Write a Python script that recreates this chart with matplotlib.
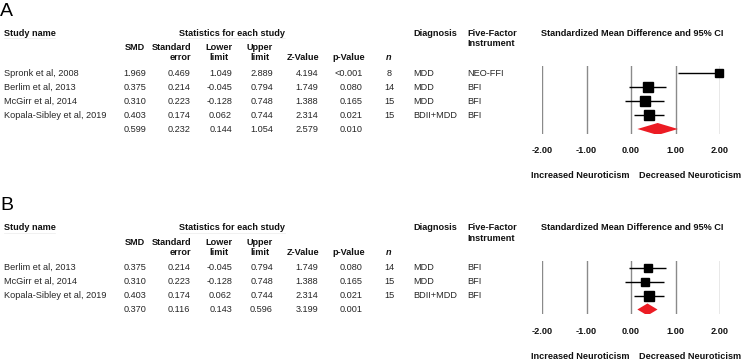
import matplotlib
matplotlib.use("Agg")
import matplotlib.pyplot as plt
import numpy as np

plt.rcParams["font.family"] = ["Liberation Sans", "DejaVu Sans"]

# panel A data
studies_a = ["Spronk et al, 2008", "Berlim et al, 2013", "McGirr et al, 2014", "Kopala-Sibley et al, 2019"]
smd_a = [1.969, 0.375, 0.310, 0.403]
se_a = [0.469, 0.214, 0.223, 0.174]
lower_a = [1.049, -0.045, -0.128, 0.062]
upper_a = [2.889, 0.794, 0.748, 0.744]
z_a = [4.194, 1.749, 1.388, 2.314]
p_a = ["<0.001", "0.080", "0.165", "0.021"]
n_a = [8, 14, 15, 15]
diag_a = ["MDD", "MDD", "MDD", "BDII+MDD"]
instr_a = ["NEO-FFI", "BFI", "BFI", "BFI"]
pooled_a = [0.599, 0.232, 0.144, 1.054, 2.579, "0.010"]

# panel B data
studies_b = ["Berlim et al, 2013", "McGirr et al, 2014", "Kopala-Sibley et al, 2019"]
smd_b = [0.375, 0.310, 0.403]
se_b = [0.214, 0.223, 0.174]
lower_b = [-0.045, -0.128, 0.062]
upper_b = [0.794, 0.748, 0.744]
z_b = [1.749, 1.388, 2.314]
p_b = ["0.080", "0.165", "0.021"]
n_b = [14, 15, 15]
diag_b = ["MDD", "MDD", "BDII+MDD"]
instr_b = ["BFI", "BFI", "BFI"]
pooled_b = [0.370, 0.116, 0.143, 0.596, 3.199, "0.001"]

x_ticks = [-2, -1, 0, 1, 2]

W, H = 741, 360
FS = 6.6
ROW = 14.0

fig = plt.figure(figsize=(W / 100, H / 100), dpi=100)
bg = fig.add_axes([0, 0, 1, 1])
bg.set_xlim(0, W)
bg.set_ylim(H, 0)
bg.axis("off")


def txt(x, y, s, ha="left", bold=False, **kw):
    bg.text(x, y, s, ha=ha, va="center", fontsize=kw.pop("fontsize", FS),
            fontweight="bold" if bold else "normal",
            color=kw.pop("color", "#111111" if bold else "#262626"), **kw)


def re_weights(y, se):
    # DerSimonian-Laird random effects weights
    y = np.asarray(y)
    v = np.asarray(se) ** 2
    w = 1 / v
    m = np.sum(w * y) / np.sum(w)
    q = np.sum(w * (y - m) ** 2)
    c = np.sum(w) - np.sum(w ** 2) / np.sum(w)
    tau2 = max(0.0, (q - (len(y) - 1)) / c)
    return 1 / (v + tau2)


def panel(letter, y0, studies, smd, se, lower, upper, z, p, n, diag, instr, pooled):
    txt(0, 11 + y0, letter, fontsize=14, color="black")
    txt(4, 33 + y0, "Study name", bold=True)
    txt(232, 33 + y0, "Statistics for each study", ha="center", bold=True)
    # faint header underlines
    bg.plot([4, 55], [38 + y0, 38 + y0], color="#ebebeb", lw=0.5)
    bg.plot([180, 285], [38 + y0, 38 + y0], color="#ebebeb", lw=0.5)
    txt(413, 33 + y0, "Diagnosis", bold=True)
    txt(467, 33 + y0, "Five-Factor", bold=True)
    txt(467, 44 + y0, "Instrument", bold=True)
    txt(632, 33 + y0, "Standardized Mean Difference and 95% CI", ha="center", bold=True)

    txt(135, 48 + y0, "SMD", ha="center", bold=True)
    txt(191, 48 + y0, "Standard", ha="right", bold=True)
    txt(191, 58 + y0, "error", ha="right", bold=True)
    txt(219, 48 + y0, "Lower", ha="center", bold=True)
    txt(219, 58 + y0, "limit", ha="center", bold=True)
    txt(260, 48 + y0, "Upper", ha="center", bold=True)
    txt(260, 58 + y0, "limit", ha="center", bold=True)
    txt(319, 58 + y0, "Z-Value", ha="right", bold=True)
    txt(365, 58 + y0, "p-Value", ha="right", bold=True)
    txt(389, 58 + y0, "n", ha="center", bold=True, style="italic")

    rows = len(studies)
    for i in range(rows + 1):
        yy = 73 + y0 + i * ROW
        if i < rows:
            txt(4, yy, studies[i])
            vals = [smd[i], se[i], lower[i], upper[i], z[i]]
            txt(389, yy, str(n[i]), ha="center")
            txt(413, yy, diag[i])
            txt(467, yy, instr[i])
            pv = p[i]
        else:
            vals = pooled[:5]
            pv = pooled[5]
        for xr, v in zip([146, 190, 232, 273, 318], vals):
            txt(xr, yy, f"{v:.3f}", ha="right")
        txt(363, yy, pv, ha="right")

    # forest plot axes
    top_px = 73 + y0 - 0.5 * ROW
    bot_px = 73 + y0 + (rows + 0.35) * ROW
    ax = fig.add_axes([542 / W, 1 - bot_px / H, (720 - 542) / W, (bot_px - top_px) / H])
    ax.set_xlim(-2, 2)
    ax.set_ylim(rows + 0.35, -0.5)
    for s in ax.spines.values():
        s.set_visible(False)
    ax.patch.set_visible(False)
    ax.set_yticks([])
    ax.set_xticks(x_ticks)
    ax.set_xticklabels([f"{t:.2f}" for t in x_ticks], fontsize=FS, fontweight="bold", color="#111111")
    ax.tick_params(axis="x", length=0, pad=9)
    for t in x_ticks:
        ax.axvline(t, color="#8a8a8a", lw=1, zorder=1)

    w = re_weights(smd, se)
    sizes = 7.9 * np.sqrt(w / w.max())
    ys = np.arange(rows)
    ax.hlines(ys, lower, upper, color="black", lw=1, zorder=2)
    for yi, xi, ms in zip(ys, smd, sizes):
        ax.plot(xi, yi, marker="s", ms=ms, color="black", zorder=3, clip_on=False)

    m, lo, hi = pooled[0], pooled[2], pooled[3]
    yd = rows
    ax.fill([lo, m, hi, m], [yd, yd - 0.43, yd, yd + 0.43], color="#ec1c24", lw=0, zorder=3)

    txt(580, bot_px + 42, "Increased Neuroticism", ha="center", bold=True)
    txt(690, bot_px + 42, "Decreased Neuroticism", ha="center", bold=True)


panel("A", 0, studies_a, smd_a, se_a, lower_a, upper_a, z_a, p_a, n_a, diag_a, instr_a, pooled_a)
panel("B", 194.5, studies_b, smd_b, se_b, lower_b, upper_b, z_b, p_b, n_b, diag_b, instr_b, pooled_b)

fig.savefig("out.png", dpi=100)
